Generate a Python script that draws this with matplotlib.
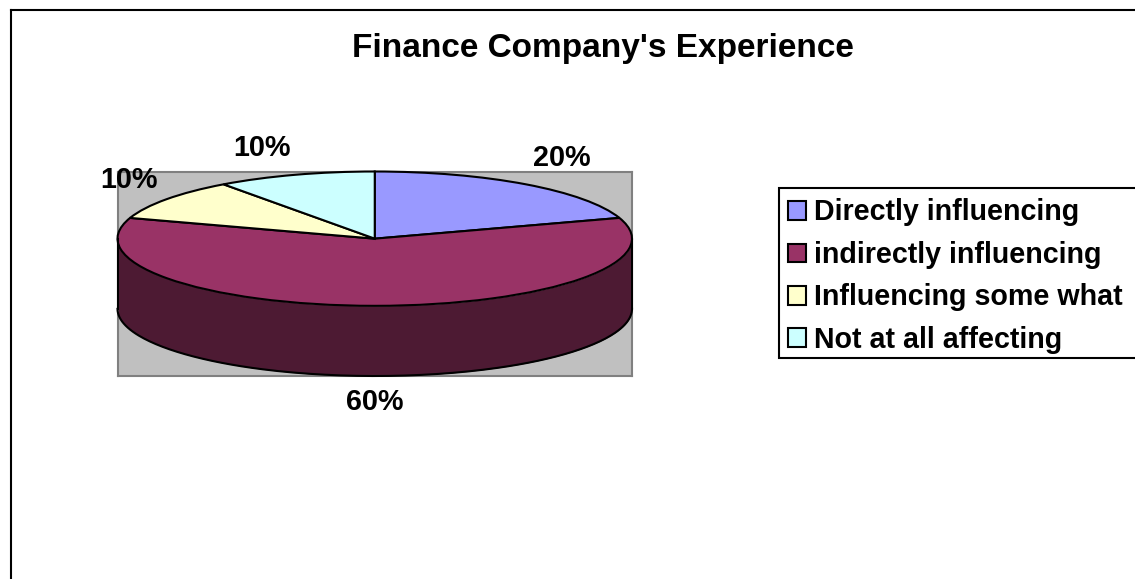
import matplotlib
matplotlib.use("Agg")
import matplotlib.pyplot as plt
from matplotlib.lines import Line2D
from matplotlib.patches import Rectangle
import numpy as np

W = 1135
H = 579

title = "Finance Company's Experience"
categories = ["Directly influencing", "indirectly influencing", "Influencing some what", "Not at all affecting"]
values = [20, 60, 10, 10]
pct_labels = ["20%", "60%", "10%", "10%"]
colors = ["#9999FF", "#993366", "#FFFFCC", "#CCFFFF"]
wall_colors = ["#4D4D80", "#4D1A33", "#808066", "#668080"]

# pixel spots of the percent labels, same order as values
label_pos = [(562, 158.5), (375, 401.5), (129, 180.5), (262, 148.5)]

plt.rcParams["font.family"] = ["Liberation Sans", "DejaVu Sans"]
plt.rcParams["font.weight"] = "bold"


def fx(px):
  return px / W


def fy(py):
  return 1 - py / H


fig = plt.figure(figsize=(W / 100, H / 100), dpi=100, facecolor="white")

# plot area is the gray rectangle, one y unit is the tilted pie's short radius
left, right, top, bottom = 117.5, 632, 171.5, 376
ry = 67.0
depth = 70.0 / ry
ax = fig.add_axes([fx(left), fy(bottom), fx(right - left), (bottom - top) / H])
wedges, _ = ax.pie(values, colors=colors, startangle=90, counterclock=False,
                   wedgeprops={"edgecolor": "black", "linewidth": 1.5, "clip_on": False, "zorder": 3})
ax.set_aspect("auto")
ax.set_xlim(-1, 1)
ax.set_ylim(-1 - depth, 1)
ax.set_frame_on(True)
ax.set_facecolor("#C0C0C0")
for s in ax.spines.values():
  s.set_color("#808080")
  s.set_linewidth(1.5)
ax.set_xticks([])
ax.set_yticks([])

# side wall, only the part of each slice on the front half of the ellipse
ends = 90 - 3.6 * np.cumsum(values)
starts = np.concatenate(([90], ends[:-1]))
for a0, a1, c in zip(starts, ends, wall_colors):
  hi = min(a0, 0)
  lo = max(a1, -180)
  if hi <= lo:
    continue
  t = np.radians(np.linspace(lo, hi, 200))
  x = np.cos(t)
  y = np.sin(t)
  ax.fill_between(x, y, y - depth, color=c, linewidth=0, zorder=2)
  ax.plot(x, y - depth, color="black", linewidth=1.5, zorder=3, clip_on=False)
  ax.plot([x[0], x[0]], [y[0], y[0] - depth], color="black", linewidth=1.5, zorder=3, clip_on=False)
  ax.plot([x[-1], x[-1]], [y[-1], y[-1] - depth], color="black", linewidth=1.5, zorder=3, clip_on=False)

for s, (px, py) in zip(pct_labels, label_pos):
  fig.text(fx(px), fy(py), s, fontsize=20.7, fontweight="bold", ha="center", va="center", zorder=5)

fig.text(fx(602.5), fy(48), title, fontsize=24, fontweight="bold", ha="center", va="center")

# chart border runs off the right and bottom of the picture
fig.add_artist(Line2D([fx(11), fx(11)], [0, fy(10)], color="black", linewidth=1.5))
fig.add_artist(Line2D([fx(11), 1], [fy(10), fy(10)], color="black", linewidth=1.5))

# legend box is cut by the right edge too
fig.add_artist(Rectangle((fx(779), fy(358)), fx(400), (358 - 188) / H, facecolor="white",
                         edgecolor="black", linewidth=1.5, transform=fig.transFigure, zorder=4))
leg = fig.legend(wedges, categories, loc="upper left", bbox_to_anchor=(fx(788), fy(198.5)),
                 frameon=False, prop={"weight": "bold", "size": 20.6}, handlelength=0.63, handleheight=0.63,
                 handletextpad=0.27, labelspacing=0.505, borderaxespad=0, borderpad=0)
leg.set_zorder(6)

fig.savefig("out.png", dpi=100)
